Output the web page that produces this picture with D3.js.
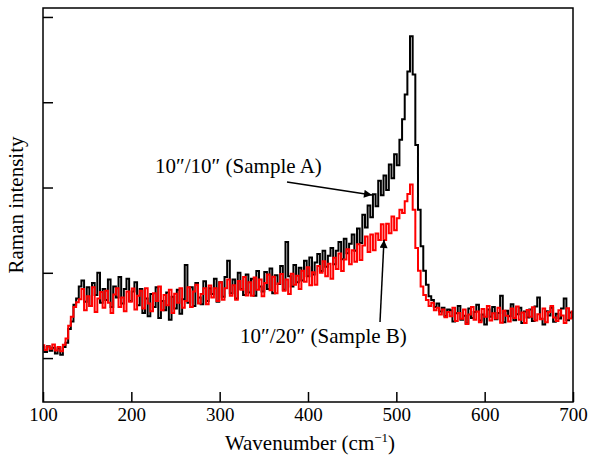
<!DOCTYPE html>
<html lang="en">
<head>
<meta charset="utf-8">
<script src="https://d3js.org/d3.v7.min.js"></script>
<style type="text/css">

body {
  margin: 0;
  background-color: #ffffff;
  font-family: "Liberation Serif", "Times New Roman", serif;
}

.axis text {
  font-family: "Liberation Serif", "Times New Roman", serif;
  font-size: 19px;
  fill: #000;
}

.axis line {
  stroke: #000;
  stroke-width: 1.5;
}

.label {
  font-size: 21px;
  fill: #000;
}

</style>
</head>
<body>
<script type="text/javascript">

// wavenumber grid, every 3 cm-1 from 100 to 700
var wavenumber = d3.range(100, 701, 3);

var xTicks = [100, 200, 300, 400, 500, 600, 700];
var yTicks = [200, 400, 600, 800, 1000];

// 10"/10" (Sample A), black
var sampleA = [
  226, 214, 228, 217, 224, 211, 223,
  208, 226, 236, 268, 286, 325, 340, 368,
  382, 332, 366, 322, 376, 348, 400, 330, 362, 336, 384, 320, 368, 342, 390, 328, 362, 386, 334, 356, 378, 324,
  362, 306, 340, 298, 350, 320, 366, 294, 334, 312, 354, 290, 344, 316, 360, 304, 338,
  418, 330, 366, 322, 376, 342, 326, 380, 334, 364, 350, 386, 332,
  378, 344, 390, 428, 352, 384, 340, 400, 362, 348, 396, 354, 386, 346, 404,
  368, 356, 402, 362, 410, 352, 394, 374, 416, 360, 472, 392, 368, 418, 378,
  412, 382, 428, 392, 436, 396, 424, 444, 404, 452, 414, 440, 458, 420, 452, 472, 432, 480, 446, 468,
  490, 452, 504, 470, 536, 506, 558, 530, 584, 556, 616, 582, 628, 594, 654, 622, 678, 652,
  712, 760, 818, 872, 955, 865, 700, 548, 462, 405, 372, 345, 336, 320, 328, 309, 318, 298, 314,
  312, 286, 305, 322, 290, 299, 281, 316, 294, 308,
  325, 288, 302, 279, 314, 297, 320, 291, 306, 346,
  284, 311, 298, 326, 289, 303, 318, 282, 309, 295,
  314, 287, 321, 342, 292, 279, 310, 300, 318, 285,
  304, 293, 316, 340, 289, 307, 296
];

// 10"/20" (Sample B), red
var sampleB = [
  230, 219, 227, 222, 232, 218, 226,
  216, 231, 246, 276, 297, 320, 331, 338,
  362, 312, 345, 322, 366, 308, 340, 355, 318, 358, 330, 306, 349, 364, 320, 342, 310, 356, 332, 363, 314, 346,
  358, 316, 364, 328, 310, 352, 334, 368, 312, 348, 324, 360, 306, 351, 330, 364, 318,
  334, 366, 320, 356, 372, 328, 350, 364, 326, 370, 342, 364, 334,
  378, 337, 364, 384, 346, 371, 337, 381, 360, 390, 347, 378, 346, 389, 360,
  384, 345, 376, 396, 359, 391, 352, 375, 397, 358, 384, 350, 398, 372, 393,
  362, 405, 379, 413, 371, 401, 372, 416, 400, 427, 392, 421, 386, 435, 409, 445, 404, 431, 455, 420,
  453, 426, 467, 430, 464, 485, 449, 490, 453, 492, 477, 514, 477, 515, 493, 532, 500, 528,
  548, 540, 568, 585, 607, 548, 458, 405, 368, 348, 336, 322, 330, 312, 318, 302, 314, 296, 308,
  298, 318, 287, 306, 292, 314, 280, 302, 320, 290,
  309, 284, 315, 297, 322, 288, 305, 293, 318, 283,
  311, 299, 286, 316, 294, 321, 290, 307, 282, 313,
  297, 319, 288, 303, 291, 316, 284, 308, 322, 295,
  287, 312, 300, 282, 317, 293, 309
];

var width = 590;
var height = 463;
var plotLeft = 43, plotRight = 573, plotTop = 8, plotBottom = 402;

var svg = d3.select("body")
  .append("svg")
  .attr("width", width)
  .attr("height", height);

var x = d3.scaleLinear().domain([100, 700]).range([plotLeft, plotRight]);
var y = d3.scaleLinear().domain([97, 1021]).range([plotBottom, plotTop]);

// step curve gives the blocky vertical look of the scanned spectra
var line = d3.line()
  .curve(d3.curveStep)
  .x(function(d, i) { return x(wavenumber[i]); })
  .y(function(d) { return y(d); });

svg.append("path")
  .datum(sampleA)
  .attr("d", line)
  .attr("fill", "none")
  .attr("stroke", "#000")
  .attr("stroke-width", 2);

svg.append("path")
  .datum(sampleB)
  .attr("d", line)
  .attr("fill", "none")
  .attr("stroke", "#ff0000")
  .attr("stroke-width", 2);

// axes, ticks pointing inward
var xAxis = svg.append("g")
  .attr("class", "axis")
  .attr("transform", "translate(0," + plotBottom + ")")
  .call(d3.axisBottom(x).tickValues(xTicks).tickSizeInner(-10).tickSizeOuter(0).tickPadding(6));
xAxis.select(".domain").remove();

var yAxis = svg.append("g")
  .attr("class", "axis")
  .attr("transform", "translate(" + plotLeft + ",0)")
  .call(d3.axisLeft(y).tickValues(yTicks).tickSizeInner(-10).tickSizeOuter(0).tickFormat(""));
yAxis.select(".domain").remove();

// frame
svg.append("rect")
  .attr("x", plotLeft)
  .attr("y", plotTop)
  .attr("width", plotRight - plotLeft)
  .attr("height", plotBottom - plotTop)
  .attr("fill", "none")
  .attr("stroke", "#000")
  .attr("stroke-width", 1.5);

// axis titles
var xTitle = svg.append("text")
  .attr("class", "label")
  .attr("x", (plotLeft + plotRight) / 2 + 2)
  .attr("y", 450)
  .attr("text-anchor", "middle");
xTitle.append("tspan").text("Wavenumber (cm");
xTitle.append("tspan").attr("dy", -8).style("font-size", "13px").text("\u22121");
xTitle.append("tspan").attr("dy", 8).text(")");

svg.append("text")
  .attr("class", "label")
  .attr("transform", "translate(23," + ((plotTop + plotBottom) / 2) + ") rotate(-90)")
  .attr("text-anchor", "middle")
  .text("Raman intensity");

// annotations
svg.append("defs").append("marker")
  .attr("id", "head")
  .attr("viewBox", "0 0 10 10")
  .attr("refX", 10)
  .attr("refY", 5)
  .attr("markerWidth", 11)
  .attr("markerHeight", 8)
  .attr("markerUnits", "userSpaceOnUse")
  .attr("orient", "auto")
  .append("path")
  .attr("d", "M0,0 L10,5 L0,10 Z")
  .attr("fill", "#000");

svg.append("text")
  .attr("class", "label")
  .attr("x", 155)
  .attr("y", 173)
  .text("10\u2033/10\u2033 (Sample A)");

svg.append("line")
  .attr("x1", 287).attr("y1", 182)
  .attr("x2", 372).attr("y2", 195)
  .attr("stroke", "#000")
  .attr("stroke-width", 1.5)
  .attr("marker-end", "url(#head)");

svg.append("text")
  .attr("class", "label")
  .attr("x", 240)
  .attr("y", 343)
  .text("10\u2033/20\u2033 (Sample B)");

svg.append("line")
  .attr("x1", 380).attr("y1", 322)
  .attr("x2", 384).attr("y2", 240)
  .attr("stroke", "#000")
  .attr("stroke-width", 1.5)
  .attr("marker-end", "url(#head)");

</script>
</body>
</html>
